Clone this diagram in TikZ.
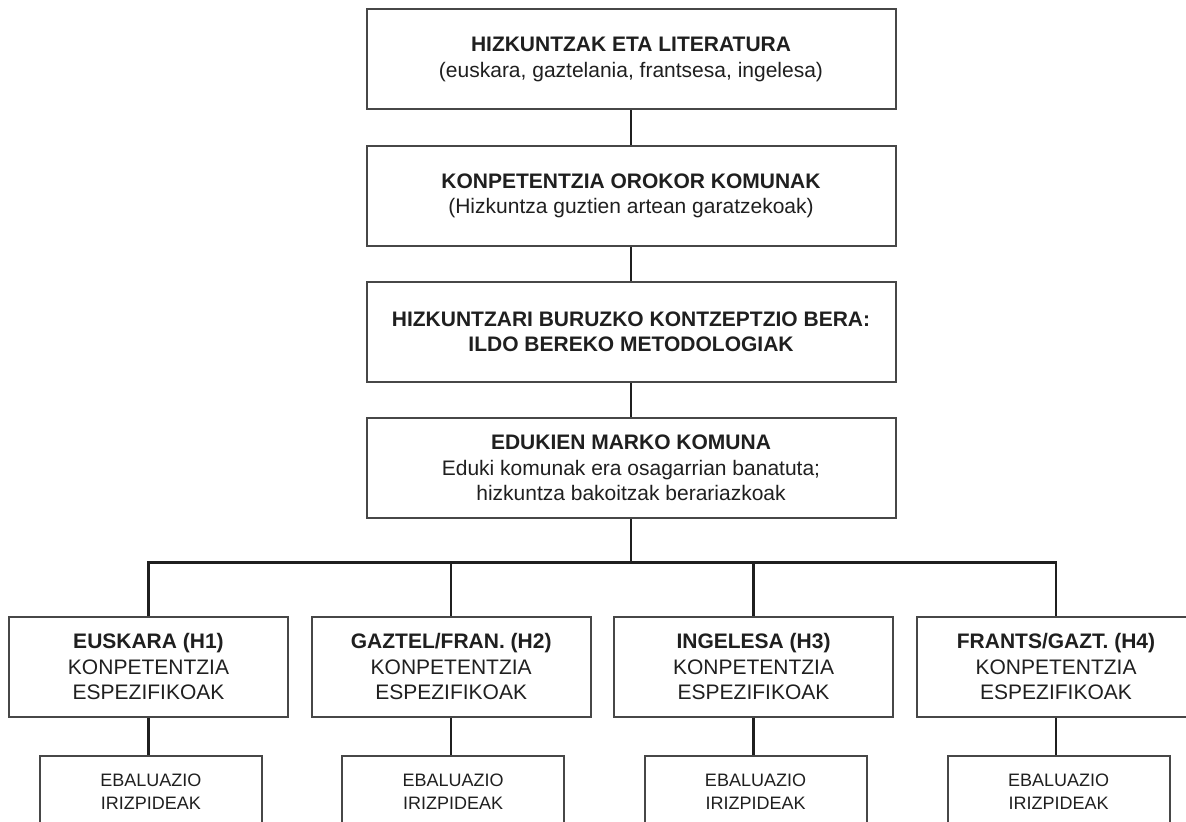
\documentclass[tikz,border=0pt]{standalone}
\usepackage{fontspec}
\setmainfont{Liberation Sans}
\begin{document}
\begin{tikzpicture}[x=0.5pt,y=-0.5pt,
  every node/.style={align=center,text=black!88,font=\fontsize{10.5}{12.75}\selectfont},
  mainbox/.style={shape=rectangle,draw=black!72,line width=1pt,minimum width=264.5pt,minimum height=50pt},
  langbox/.style={shape=rectangle,draw=black!72,line width=1pt,minimum width=139.5pt,minimum height=50pt},
  evalbox/.style={shape=rectangle,draw=black!72,line width=1pt,minimum width=111pt,minimum height=36pt,
    font=\fontsize{9}{11.2}\selectfont},
  link/.style={draw=black!88,line width=1.2pt}]
%[inner sep=1mm]
\useasboundingbox (0,0) rectangle (1186,822);
\clip (0,0) rectangle (1186,822);

\path (631,59.5) node (lit) [mainbox] {\textbf{HIZKUNTZAK ETA LITERATURA}\\(euskara, gaztelania, frantsesa, ingelesa)};
\path (631,195.7) node (orokor) [mainbox] {\textbf{KONPETENTZIA OROKOR KOMUNAK}\\(Hizkuntza guztien artean garatzekoak)};
\path (631,332) node (kontz) [mainbox] {\textbf{HIZKUNTZARI BURUZKO KONTZEPTZIO BERA:}\\\textbf{ILDO BEREKO METODOLOGIAK}};
\path (631,468) node (marko) [mainbox] {\textbf{EDUKIEN MARKO KOMUNA}\\Eduki komunak era osagarrian banatuta;\\hizkuntza bakoitzak berariazkoak};
\coordinate (bar) at (631,562.3);

\path (148.5,666.7) node (h1) [langbox] {\textbf{EUSKARA (H1)}\\KONPETENTZIA\\ESPEZIFIKOAK};
\path (451.2,666.7) node (h2) [langbox] {\textbf{GAZTEL/FRAN. (H2)}\\KONPETENTZIA\\ESPEZIFIKOAK};
\path (753.5,666.7) node (h3) [langbox] {\textbf{INGELESA (H3)}\\KONPETENTZIA\\ESPEZIFIKOAK};
\path (1056,666.7) node (h4) [langbox] {\textbf{FRANTS/GAZT. (H4)}\\KONPETENTZIA\\ESPEZIFIKOAK};

\path (150.8,791.7) node (e1) [evalbox] {EBALUAZIO\\IRIZPIDEAK};
\path (453.2,791.7) node (e2) [evalbox] {EBALUAZIO\\IRIZPIDEAK};
\path (755.5,791.7) node (e3) [evalbox] {EBALUAZIO\\IRIZPIDEAK};
\path (1058.5,791.7) node (e4) [evalbox] {EBALUAZIO\\IRIZPIDEAK};

\draw [link] (lit) to (orokor);
\draw [link] (orokor) to (kontz);
\draw [link] (kontz) to (marko);
\draw [link] (marko) to (bar);
\draw [link] (h1.north) |- (bar) -| (h4.north);
\draw [link] (h2.north) to (h2.north |- bar);
\draw [link] (h3.north) to (h3.north |- bar);
\draw [link] (h1.south) to (h1.south |- e1.north);
\draw [link] (h2.south) to (h2.south |- e2.north);
\draw [link] (h3.south) to (h3.south |- e3.north);
\draw [link] (h4.south) to (h4.south |- e4.north);

\end{tikzpicture}
\end{document}
